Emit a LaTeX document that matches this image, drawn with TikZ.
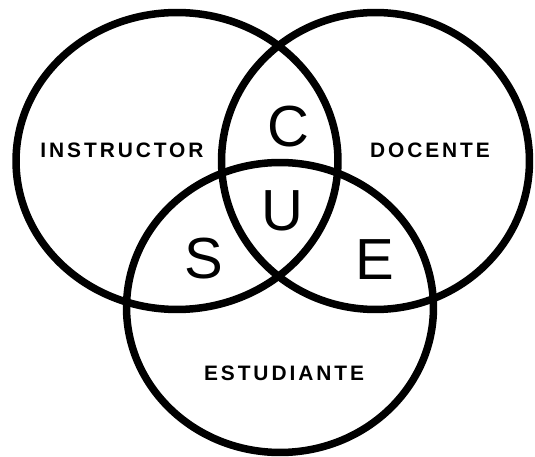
\documentclass[tikz,border=0pt]{standalone}
\usepackage{fontspec}
\setmainfont{Liberation Sans}
\newfontfamily\spacedfont[LetterSpace=14]{Liberation Sans}
\usetikzlibrary{shapes.geometric}
\begin{document}
\begin{tikzpicture}[
    x=0.02cm, y=0.02cm,
    ring/.style={ellipse, draw, line width=0.15cm, inner sep=0pt},
    role/.style={inner sep=0pt, font=\spacedfont\bfseries\fontsize{11.9}{12}\selectfont},
    letter/.style={inner sep=0pt, font=\fontsize{33}{34}\selectfont},
]
\useasboundingbox (0, 0) rectangle (535, 457);

% Círculos
\node[ring, minimum width=6.44cm, minimum height=5.94cm] (instr) at (177, 296) {};
\node[ring, minimum width=6.16cm, minimum height=5.94cm] (doc) at (375.5, 296) {};
\node[ring, minimum width=6.14cm, minimum height=5.80cm] (est) at (280, 149.5) {};

% Roles
\node[role] (linstr) at (122, 307) {INSTRUCTOR};
\node[role] (ldoc) at (430, 307) {DOCENTE};
\node[role] (lest) at (284, 84) {ESTUDIANTE};

% Intersecciones
\node[letter] (c) at (288, 330) {C};
\node[letter] (u) at (282, 246) {U};
\node[letter] (s) at (204, 198) {S};
\node[letter] (e) at (375, 197) {E};

\end{tikzpicture}
\end{document}
